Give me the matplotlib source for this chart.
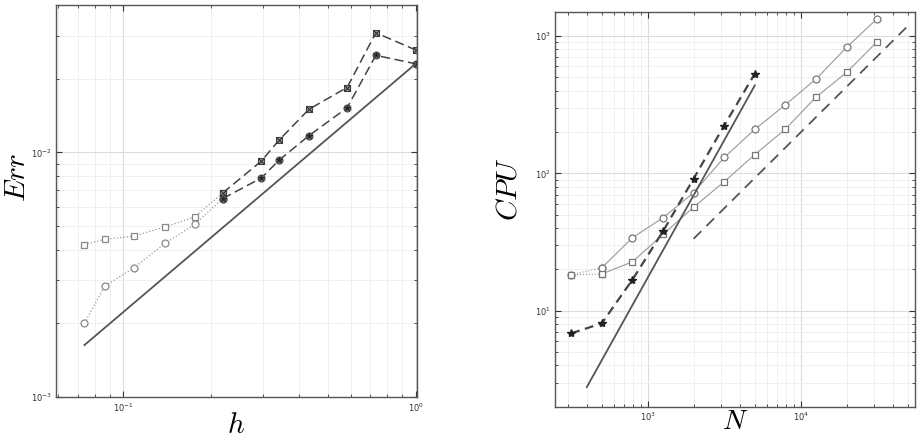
import matplotlib
matplotlib.use("Agg")
import matplotlib.pyplot as plt
from matplotlib.ticker import LogLocator, NullFormatter

# ---- left panel: error vs h ----
h = [0.0738, 0.0866, 0.109, 0.139, 0.176, 0.219, 0.297, 0.341, 0.432, 0.583, 0.731, 1.0]
err_sq = [0.00420, 0.00441, 0.00455, 0.00495, 0.00545, 0.00682, 0.00921, 0.0112,
          0.0150, 0.0184, 0.0308, 0.0262]
err_ci = [0.00200, 0.00284, 0.00337, 0.00424, 0.00508, 0.00647, 0.00785, 0.00928,
          0.0117, 0.0152, 0.0249, 0.0230]
split = 5  # first points drawn dotted, the rest dashed
ref_h = [0.0738, 1.0]
ref_err = [0.00163, 0.0230]

# ---- right panel: CPU vs N ----
N = [316, 501, 794, 1259, 1995, 3162, 5012, 7943, 12589, 19953, 31623]
cpu_ci = [18.3, 20.5, 34.0, 47.5, 72.3, 130.6, 209, 316, 486, 827, 1340]
cpu_sq = [18.3, 18.5, 22.7, 35.9, 56.7, 86.9, 137, 210, 359, 543, 910]
cpu_st = [6.84, 8.09, 16.8, 37.9, 91.4, 223, 532]
ref2_N = [400, 5012]
ref2_cpu = [2.78, 437]
ref3_N = [1995, 51400]
ref3_cpu = [33.4, 1217]

fig = plt.figure(figsize=(9.22, 4.37), dpi=100)
ax1 = fig.add_axes([0.0607, 0.0915, 0.3915, 0.8971])
ax2 = fig.add_axes([0.602, 0.0693, 0.390, 0.9037])


def style(ax):
    ax.set_xscale("log")
    ax.set_yscale("log")
    ax.grid(True, which="major", color="#dddddd", lw=0.8)
    ax.grid(True, which="minor", color="#eeeeee", lw=0.6)
    ax.set_axisbelow(True)
    ax.tick_params(which="both", direction="in", top=True, right=True,
                   labelsize=6, colors="#333333", pad=3)
    ax.tick_params(which="major", length=4)
    ax.tick_params(which="minor", length=2)
    ax.yaxis.set_minor_locator(LogLocator(base=10, subs=range(2, 10)))
    ax.yaxis.set_minor_formatter(NullFormatter())
    ax.xaxis.set_minor_formatter(NullFormatter())
    for s in ax.spines.values():
        s.set_color("#555555")
        s.set_linewidth(1.0)


style(ax1)
dot = dict(color="#999999", lw=0.9, ls=":", ms=5, mfc="white", mew=0.9)
ax1.plot(h[:split + 1], err_sq[:split + 1], marker="s", mec="#888888", **dot)
ax1.plot(h[:split + 1], err_ci[:split + 1], marker="o", mec="#888888", **dot)
dash = dict(color="#444444", lw=1.1, ls=(0, (6, 3)), ms=5, mew=0.8)
ax1.plot(h[split:], err_sq[split:], marker="s", mfc="#999999", mec="#444444", **dash)
ax1.plot(h[split:], err_ci[split:], marker="o", mfc="#777777", mec="#444444", **dash)
ax1.plot(h[split:], err_sq[split:], ls="none", marker="x", ms=4, mec="#222222", mew=0.7)
ax1.plot(h[split:], err_ci[split:], ls="none", marker="*", ms=4, mec="#222222",
         mfc="#222222", mew=0.5)
ax1.plot(ref_h, ref_err, color="#555555", lw=1.3)
ax1.set_xlim(0.059, 1.01)
ax1.set_ylim(1e-3, 0.04)
ax1.set_xlabel("$h$", fontsize=21, math_fontfamily="cm", labelpad=-2)
ax1.set_ylabel("$Err$", fontsize=21, math_fontfamily="cm")
ax1.yaxis.set_label_coords(-0.07, 0.56)

style(ax2)
thin = dict(color="#999999", lw=0.8, ms=5, mfc="white", mec="#777777", mew=0.9)
ax2.plot(N[:2], cpu_ci[:2], ls=":", marker="o", **thin)
ax2.plot(N[:2], cpu_sq[:2], ls=":", marker="s", **thin)
ax2.plot(N[1:], cpu_ci[1:], ls="-", marker="o", **thin)
ax2.plot(N[1:], cpu_sq[1:], ls="-", marker="s", **thin)
ax2.plot(N[:len(cpu_st)], cpu_st, color="#444444", lw=1.6, ls=(0, (4, 2.5)),
         marker="*", ms=6, mfc="#222222", mec="#222222")
ax2.plot(ref2_N, ref2_cpu, color="#555555", lw=1.3)
ax2.plot(ref3_N, ref3_cpu, color="#555555", lw=1.3, ls=(0, (6, 4)))
ax2.set_xlim(248, 55500)
ax2.set_ylim(2, 1500)
ax2.set_xlabel("$N$", fontsize=20, math_fontfamily="cm", labelpad=-12)
ax2.set_ylabel("$CPU$", fontsize=21, math_fontfamily="cm")
ax2.yaxis.set_label_coords(-0.09, 0.55)

fig.savefig("out.png", dpi=100)
